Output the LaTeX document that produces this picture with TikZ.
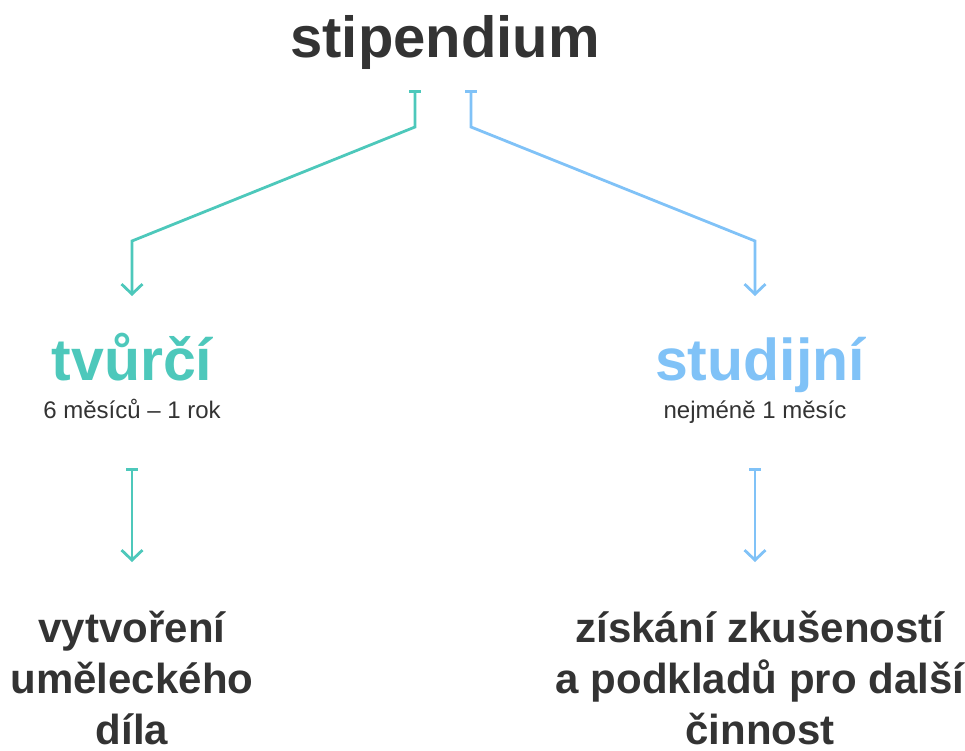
\documentclass[tikz,border=0pt]{standalone}
\usepackage{fontspec}
\setmainfont{Liberation Sans}
\usetikzlibrary{arrows.meta}
\definecolor{tyrkys}{HTML}{4DC8BB}
\definecolor{modra}{HTML}{80C2F7}
\definecolor{seda}{HTML}{333333}
\tikzset{
  vetev/.style={line width=2.8pt, line join=miter,
    {Bar[width=12pt]}-{Straight Barb[length=10pt,width=21pt]}},
  nadpis/.style={font=\fontsize{58}{60}\selectfont\bfseries, text=seda, inner sep=0pt},
  druh/.style={font=\fontsize{59}{60}\selectfont\bfseries, inner sep=0pt},
  delka/.style={font=\fontsize{24}{28}\selectfont, text=seda, inner sep=0pt},
  cil/.style={font=\fontsize{42}{51}\selectfont\bfseries, text=seda, align=center, inner sep=0pt},
}
\begin{document}
\begin{tikzpicture}[x=1pt,y=-1pt]
  \useasboundingbox (0,0) rectangle (965,751);
  % nadpis
  \node[nadpis, anchor=base] (stip) at (445,58) {stipendium};
  % druhy stipendia
  \node[druh, text=tyrkys, anchor=base] (tvurci) at (132,380) {tvůrčí};
  \node[druh, text=modra, anchor=base] (studijni) at (760,380) {studijní};
  \node[delka, anchor=base] (tvurcidelka) at (132,418) {6 měsíců – 1 rok};
  \node[delka, anchor=base] (studijnidelka) at (755,418) {nejméně 1 měsíc};
  % cile (base = posledni radek)
  \node[cil, anchor=base] (tvurcicil) at (132,744) {vytvoření\\uměleckého\\díla};
  \node[cil, anchor=base] (studijnicil) at (760,744) {získání zkušeností\\a podkladů pro další\\činnost};
  % konce spojnic
  \coordinate (stipL) at (415,90);
  \coordinate (stipR) at (471,90);
  \coordinate (tvurciIn) at (132,296);
  \coordinate (studijniIn) at (755,296);
  \coordinate (tvurciOut) at (132,468);
  \coordinate (studijniOut) at (755,468);
  \coordinate (tvurciCilIn) at (132,562);
  \coordinate (studijniCilIn) at (755,562);
  % spojnice
  \draw[vetev, tyrkys] (stipL) -- ++(0,37) -- (132,241) -- (tvurciIn);
  \draw[vetev, modra] (stipR) -- ++(0,37) -- (755,241) -- (studijniIn);
  \draw[vetev, tyrkys] (tvurciOut) -- (tvurciCilIn);
  \draw[vetev, modra] (studijniOut) -- (studijniCilIn);
\end{tikzpicture}
\end{document}
